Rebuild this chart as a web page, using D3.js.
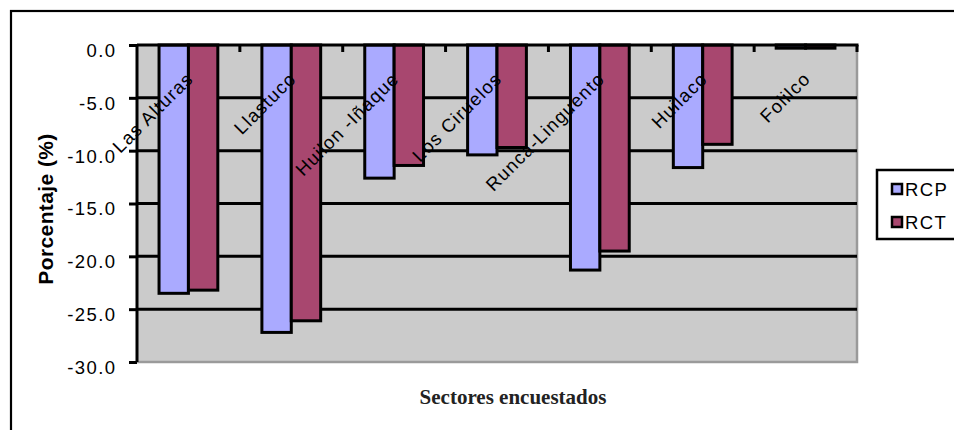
<!DOCTYPE html>
<html>
<head>
<meta charset="utf-8">
<script src="https://cdn.jsdelivr.net/npm/d3@7"></script>
<style>
  body { margin: 0; background: #fff; }
  svg { display: block; }
</style>
</head>
<body>
<div id="chart"></div>
<script>
// data
const sectors = ["Las Alturas", "Llastuco", "Huilon -Iñaque", "Los Ciruelos", "Runca-Linguento", "Huilaco", "Folilco"];
const seriesNames = ["RCP", "RCT"];
const rcp = [-23.5, -27.2, -12.6, -10.4, -21.3, -11.6, -0.3];
const rct = [-23.2, -26.1, -11.4, -9.7, -19.5, -9.4, -0.3];
const yTicks = [0, -5, -10, -15, -20, -25, -30];
const colors = ["#aaaaff", "#a8476f"];

const width = 954, height = 430;
const margin = {top: 45, right: 97, bottom: 68, left: 137};
const innerW = width - margin.left - margin.right;
const innerH = height - margin.top - margin.bottom;

const rows = sectors.map((s, i) => ({sector: s, RCP: rcp[i], RCT: rct[i]}));
const sans = "'Liberation Sans', Arial, sans-serif";

const svg = d3.select("#chart").append("svg")
    .attr("width", width)
    .attr("height", height);

// outer chart border (runs off the right and bottom edge)
svg.append("rect")
    .attr("x", 11).attr("y", 11)
    .attr("width", 960).attr("height", 440)
    .attr("fill", "#fff")
    .attr("stroke", "#000")
    .attr("stroke-width", 2.2);

const g = svg.append("g").attr("transform", `translate(${margin.left},${margin.top})`);

const x = d3.scaleBand().domain(sectors).range([0, innerW]).paddingInner(0).paddingOuter(0);
const x1 = d3.scaleBand().domain(seriesNames).range([0, x.bandwidth()]).paddingOuter(0.75).paddingInner(0);
const y = d3.scaleLinear().domain([0, -30]).range([0, innerH]);

// plot area
g.append("rect")
    .attr("width", innerW).attr("height", innerH)
    .attr("fill", "#cbcbcb");
g.append("path")
    .attr("d", `M${innerW},0V${innerH}H0`)
    .attr("fill", "none")
    .attr("stroke", "#9a9a9a")
    .attr("stroke-width", 2.5);

// gridlines
g.append("g")
    .selectAll("line")
    .data(yTicks.filter(d => d !== 0 && d !== -30))
    .join("line")
    .attr("x1", 0).attr("x2", innerW)
    .attr("y1", d => y(d)).attr("y2", d => y(d))
    .attr("stroke", "#000")
    .attr("stroke-width", 3);

// bars
const groups = g.append("g")
    .selectAll("g")
    .data(rows)
    .join("g")
    .attr("transform", d => `translate(${x(d.sector)},0)`);

groups.selectAll("rect")
    .data(d => seriesNames.map((k, i) => ({key: k, value: d[k], i})))
    .join("rect")
    .attr("x", d => x1(d.key))
    .attr("width", x1.bandwidth())
    .attr("y", y(0))
    .attr("height", d => y(d.value) - y(0))
    .attr("fill", d => colors[d.i])
    .attr("stroke", "#000")
    .attr("stroke-width", 3);

// y axis
const yAxis = g.append("g")
    .call(d3.axisLeft(y).tickValues(yTicks).tickSize(8).tickPadding(14).tickFormat(d => d.toFixed(1)));
yAxis.select(".domain").attr("stroke", "#000").attr("stroke-width", 3).attr("d", `M0,0V${innerH}`);
yAxis.selectAll(".tick line").attr("stroke", "#000").attr("stroke-width", 3);
yAxis.selectAll(".tick text")
    .attr("font-family", sans)
    .attr("font-size", 18.5)
    .attr("letter-spacing", 1.4)
    .attr("fill", "#000")
    .attr("dx", 1.4)
    .attr("dy", "0.62em");

// category axis along the zero line, ticks pointing down
g.append("line")
    .attr("x1", 0).attr("x2", innerW + 1.5)
    .attr("y1", y(0)).attr("y2", y(0))
    .attr("stroke", "#000").attr("stroke-width", 3);
g.append("g")
    .selectAll("line")
    .data(sectors.slice(1).map(s => x(s)).concat([innerW]))
    .join("line")
    .attr("x1", d => d).attr("x2", d => d)
    .attr("y1", y(0)).attr("y2", y(0) + 7)
    .attr("stroke", "#000").attr("stroke-width", 3);

g.append("g")
    .selectAll("text")
    .data(sectors)
    .join("text")
    .attr("transform", d => `translate(${x(d) + x.bandwidth() / 2 + 6},${y(0) + 35}) rotate(-45)`)
    .attr("text-anchor", "end")
    .attr("font-family", sans)
    .attr("font-size", 18.5)
    .attr("letter-spacing", 1.2)
    .attr("fill", "#000")
    .text(d => d);

// axis titles
svg.append("text")
    .attr("transform", `translate(53,209) rotate(-90)`)
    .attr("text-anchor", "middle")
    .attr("font-family", sans)
    .attr("font-weight", "bold")
    .attr("font-size", 21)
    .attr("letter-spacing", 0.4)
    .attr("fill", "#000")
    .text("Porcentaje (%)");

svg.append("text")
    .attr("x", 513).attr("y", 404)
    .attr("text-anchor", "middle")
    .attr("font-family", "'Liberation Serif', 'Times New Roman', serif")
    .attr("font-weight", "bold")
    .attr("font-size", 21)
    .attr("fill", "#222")
    .text("Sectores encuestados");

// legend
const legend = svg.append("g").attr("transform", "translate(877,170)");
legend.append("rect")
    .attr("width", 100).attr("height", 69)
    .attr("fill", "#fff")
    .attr("stroke", "#000")
    .attr("stroke-width", 2.5);
const item = legend.selectAll("g")
    .data(seriesNames)
    .join("g")
    .attr("transform", (d, i) => `translate(0,${19 + i * 33})`);
item.append("rect")
    .attr("x", 15).attr("y", -5)
    .attr("width", 10).attr("height", 10)
    .attr("fill", (d, i) => colors[i])
    .attr("stroke", "#000")
    .attr("stroke-width", 2.5);
item.append("text")
    .attr("x", 28).attr("y", 7)
    .attr("font-family", sans)
    .attr("font-size", 18.5)
    .attr("letter-spacing", 1.4)
    .attr("fill", "#000")
    .text(d => d);
</script>
</body>
</html>
